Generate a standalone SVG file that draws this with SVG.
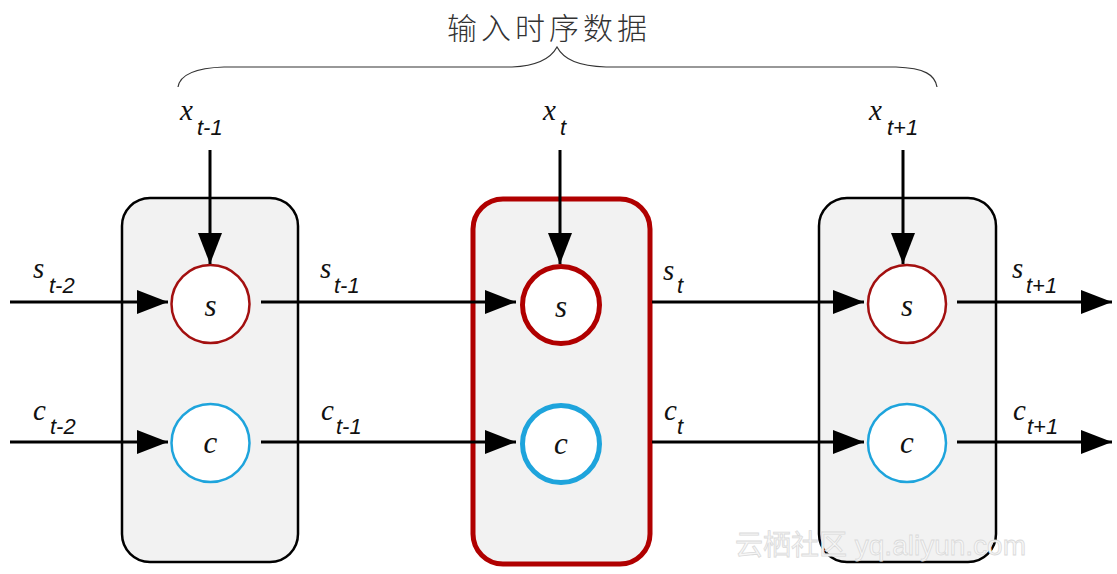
<svg xmlns="http://www.w3.org/2000/svg" width="1117" height="574" viewBox="0 0 1117 574">
<defs>
<marker id="ah" markerUnits="userSpaceOnUse" markerWidth="31" markerHeight="24" viewBox="0 0 31 24" refX="31" refY="12" orient="auto">
<path d="M0,0 L31,12 L0,24 z" fill="#000"/>
</marker>
<style>
.box{fill:#f2f2f2;stroke:#000;stroke-width:2.5}
.boxa{fill:#f2f2f2;stroke:#b00000;stroke-width:5}
.cs{fill:#fff;stroke:#a31010;stroke-width:2.5}
.cc{fill:#fff;stroke:#1ea4dc;stroke-width:2.5}
.csa{fill:#fff;stroke:#b00000;stroke-width:5}
.cca{fill:#fff;stroke:#1ea4dc;stroke-width:5}
.ln{stroke:#000;stroke-width:3;fill:none;marker-end:url(#ah)}
.v{font-family:"Liberation Serif","DejaVu Serif","Times New Roman",serif;font-style:italic;font-size:29px;fill:#111}
.n{font-family:"Liberation Serif","DejaVu Serif","Times New Roman",serif;font-style:italic;font-size:31px;fill:#111;text-anchor:middle}
.sub{font-family:"Liberation Sans",Arial,sans-serif;font-style:italic;font-size:22px;fill:#111}
.title{font-family:"Noto Sans CJK SC",sans-serif;font-size:30px;font-weight:300;fill:#333;letter-spacing:4px}
.wm{font-family:"Liberation Sans","Noto Sans CJK SC",sans-serif;font-size:28px;fill:#f7f7f7;stroke:#dadada;stroke-width:0.8}
</style>
</defs>
<rect width="1117" height="574" fill="#fff"/>

<g id="title">
<text class="title" x="447" y="39">输入时序数据</text>
<path d="M178,87 C180,75 195,68 224,67 L512,67 C535,66 550,60 557,47 C564,60 579,66 606,67 L896,67 C925,68 935,75 937,87" fill="none" stroke="#333" stroke-width="1.2"/>
</g>

<g id="cell-t-1">
<rect class="box" x="122" y="198" width="176" height="364" rx="28"/>
<g id="s-t-1"><circle class="cs" cx="210.5" cy="304" r="39"/><text class="n" x="210.5" y="316">s</text></g>
<g id="c-t-1"><circle class="cc" cx="210.5" cy="443" r="39"/><text class="n" x="210.5" y="453">c</text></g>
</g>

<g id="cell-t">
<rect class="boxa" x="473" y="199" width="177" height="365" rx="30"/>
<g id="s-t"><circle class="csa" cx="561" cy="305" r="38.5"/><text class="n" x="561" y="317">s</text></g>
<g id="c-t"><circle class="cca" cx="561" cy="444" r="38.5"/><text class="n" x="561" y="454">c</text></g>
</g>

<g id="cell-t+1">
<rect class="box" x="819" y="198" width="177" height="364" rx="28"/>
<g id="s-t+1"><circle class="cs" cx="907" cy="304" r="39"/><text class="n" x="907" y="316">s</text></g>
<g id="c-t+1"><circle class="cc" cx="907" cy="443" r="39"/><text class="n" x="907" y="453">c</text></g>
</g>

<g id="connectors">
<line class="ln" x1="10" y1="302" x2="168" y2="302"/>
<line class="ln" x1="10" y1="442" x2="168" y2="442"/>
<line class="ln" x1="210" y1="150" x2="210" y2="264"/>
<line class="ln" x1="261" y1="302" x2="516" y2="302"/>
<line class="ln" x1="261" y1="442" x2="516" y2="442"/>
<line class="ln" x1="560" y1="150" x2="560" y2="264"/>
<line class="ln" x1="652" y1="302" x2="864" y2="302"/>
<line class="ln" x1="652" y1="442" x2="864" y2="442"/>
<line class="ln" x1="903" y1="150" x2="903" y2="264"/>
<line class="ln" x1="957" y1="302" x2="1112" y2="302"/>
<line class="ln" x1="957" y1="442" x2="1112" y2="442"/>
</g>

<g id="labels">
<text class="v" x="180" y="120">x</text><text class="sub" x="197" y="135">t-1</text>
<text class="v" x="543" y="120">x</text><text class="sub" x="560" y="135">t</text>
<text class="v" x="869" y="120">x</text><text class="sub" x="887" y="135">t+1</text>

<text class="v" x="33" y="278">s</text><text class="sub" x="49" y="293">t-2</text>
<text class="v" x="33" y="420">c</text><text class="sub" x="50" y="434">t-2</text>
<text class="v" x="320" y="278">s</text><text class="sub" x="334" y="293">t-1</text>
<text class="v" x="321" y="420">c</text><text class="sub" x="336" y="434">t-1</text>
<text class="v" x="663" y="280">s</text><text class="sub" x="677" y="293">t</text>
<text class="v" x="664" y="420">c</text><text class="sub" x="677" y="434">t</text>
<text class="v" x="1012" y="278">s</text><text class="sub" x="1026" y="293">t+1</text>
<text class="v" x="1013" y="420">c</text><text class="sub" x="1027" y="434">t+1</text>
</g>

<text class="wm" x="735" y="555">云栖社区 yq.aliyun.com</text>
</svg>
